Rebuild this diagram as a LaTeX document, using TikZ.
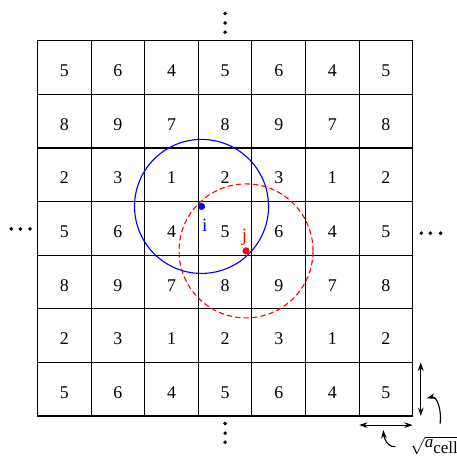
\documentclass[tikz,border=0pt]{standalone}
\usepackage{fontspec}
\setmainfont{Liberation Serif}
\usetikzlibrary{arrows.meta}
\tikzset{
    cellnum/.style={
        font=\fontsize{9.5}{11}\selectfont, inner sep=0pt
    },
    ptdot/.style={
        circle, inner sep=0pt, minimum size=3.8pt
    },
    ptlab/.style={
        font=\fontsize{10}{12}\selectfont, inner sep=0pt
    },
    sizearrow/.style={
        line width=0.6pt, {Stealth[length=4.5pt,width=3pt]}-{Stealth[length=4.5pt,width=3pt]}
    },
    hintarrow/.style={
        line width=0.6pt, -{Stealth[length=4.5pt,width=3pt]}
    }
}

\begin{document}
\begin{tikzpicture}[line cap=round,line join=round]
    \useasboundingbox (-0.70,-0.765) rectangle (7.81,7.761);

% --- geometry ---
    \def\Rc{1.25}                  % cutoff radius
    \def\dotr{1.05pt}              % ellipsis dot radius

% cell grid
    \draw[line width=0.6pt] (0,0) grid (7,7);

% cell numbers (rows from the bottom)
    \foreach \y/\a/\b/\c in {0/5/6/4,1/2/3/1,2/8/9/7,3/5/6/4,4/2/3/1,5/8/9/7,6/5/6/4}{
      \foreach \x/\v in {0/\a,1/\b,2/\c,3/\a,4/\b,5/\c,6/\a}{
        \node[cellnum] (n\x\y) at (\x+0.5,\y+0.44) {\v};
      }
    }

% particles i and j
    \node[ptdot, fill=blue] (i) at (3.06,3.91) {};
    \node[ptdot, fill=red]  (j) at (3.89,3.08) {};
    \node[ptlab, text=blue] (ilab) at (3.12,3.56) {i};
    \node[ptlab, text=red]  (jlab) at (3.86,3.34) {j};

% cutoff circles
    \draw[blue, line width=0.6pt] (i) circle (\Rc);
    \draw[red, line width=0.6pt, dash pattern=on 2.5pt off 2pt] (j) circle (\Rc);

% ellipsis dots
    \foreach \p in {7.51,7.33,7.16}{
      \fill (3.5,\p) circle (\dotr);
    }
    \foreach \p in {-0.14,-0.32,-0.49}{
      \fill (3.5,\p) circle (\dotr);
    }
    \foreach \p in {-0.49,-0.32,-0.14}{
      \fill (\p,3.49) circle (\dotr);
    }
    \foreach \p in {7.16,7.33,7.52}{
      \fill (\p,3.41) circle (\dotr);
    }

% cell size arrows
    \coordinate (vtop) at (7.15,1);
    \coordinate (vbot) at (7.15,0);
    \coordinate (hlft) at (6,-0.17);
    \coordinate (hrgt) at (7,-0.17);
    \draw[sizearrow] (vbot) -- (vtop);
    \draw[sizearrow] (hlft) -- (hrgt);

% cell size label
    \node[font=\fontsize{9}{11}\selectfont, inner sep=0pt, anchor=west] (acell) at (6.95,-0.55) {$\sqrt{\textit{a}_{\textrm{cell}}}$};
    \coordinate (h1s) at (7.51,-0.14);
    \coordinate (h1e) at (7.26,0.33);
    \coordinate (h2s) at (6.67,-0.57);
    \coordinate (h2e) at (6.45,-0.26);
    \draw[hintarrow] (h1s) to[out=80,in=15] (h1e);
    \draw[hintarrow] (h2s) to[out=185,in=-85] (h2e);

\end{tikzpicture}
\end{document}
